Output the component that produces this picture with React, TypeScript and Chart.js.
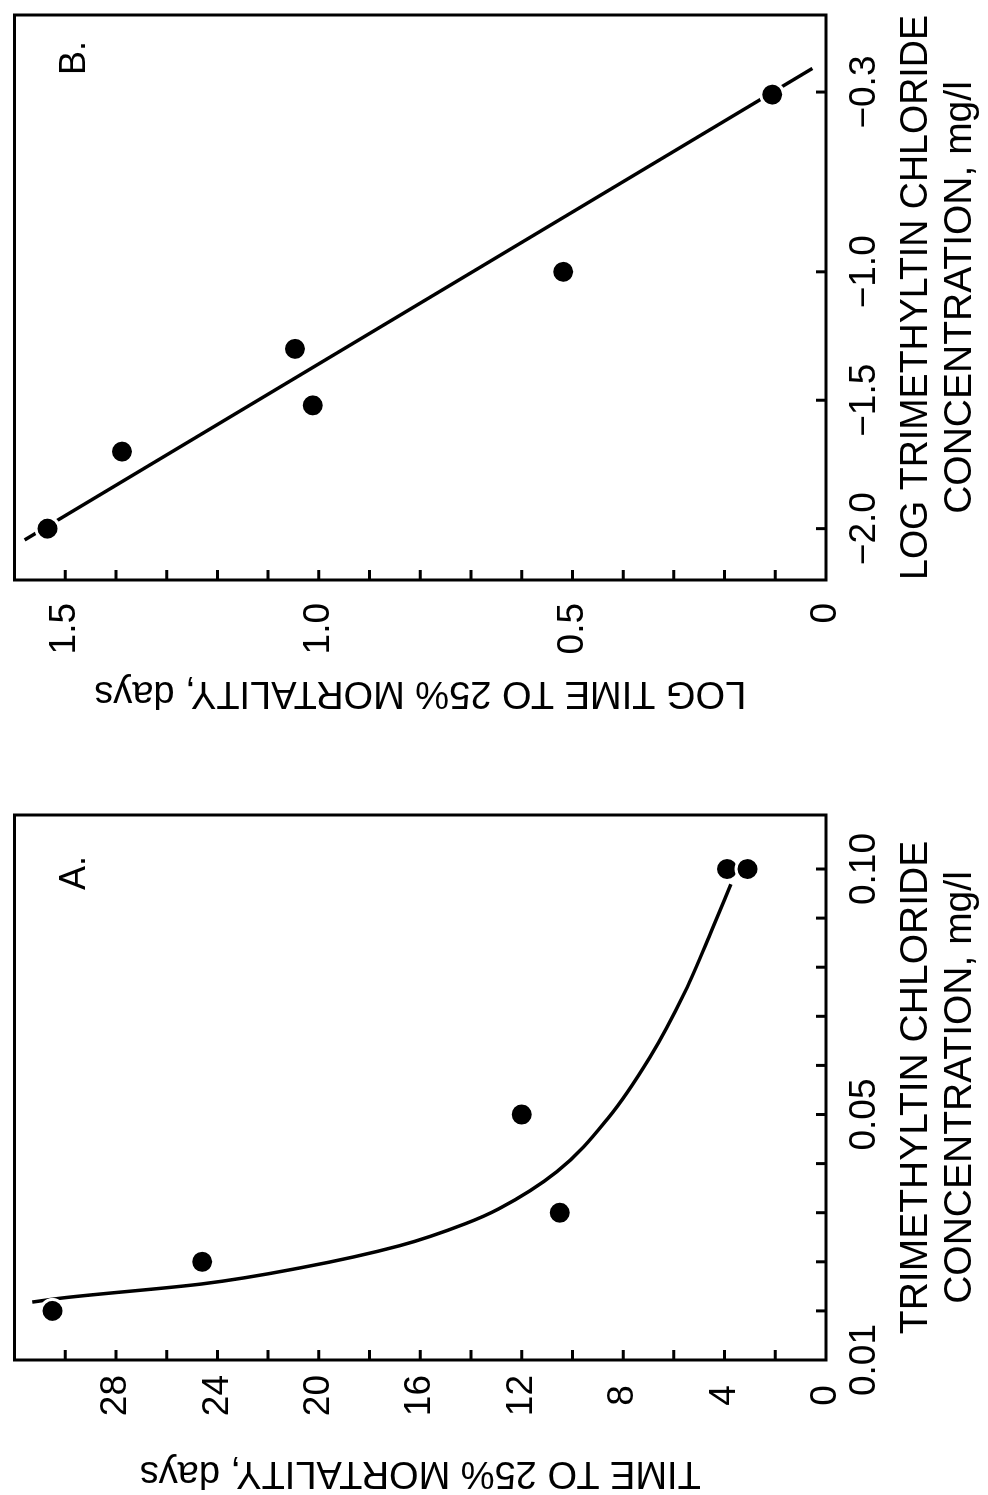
import React, { useEffect, useRef } from 'react';
import { Chart, registerables } from 'chart.js';

Chart.register(...registerables);

const FONT = "'Liberation Sans', Arial, Helvetica, sans-serif";

// ---------- Panel A : time to 25% mortality vs concentration ----------
const A_CONC = [0.01, 0.02, 0.03, 0.05, 0.1, 0.1];
const A_DAYS = [30.5, 24.6, 10.5, 12.0, 3.9, 3.1];
const A_CURVE_CONC = [0.0118, 0.0127, 0.0155, 0.0188, 0.0233, 0.0278, 0.0308, 0.0384, 0.0492, 0.0616, 0.0751, 0.0876, 0.0969];
const A_CURVE_DAYS = [31.3, 30.0, 24.6, 20.7, 16.8, 14.2, 12.9, 10.6, 8.6, 6.95, 5.55, 4.5, 3.75];
const A_CONC_TICKS = [0, 0.01, 0.02, 0.03, 0.04, 0.05, 0.06, 0.07, 0.08, 0.09, 0.1];
const A_CONC_LABELS = ['0.01', '', '', '', '', '0.05', '', '', '', '', '0.10'];
const A_DAY_TICKS = [0, 2, 4, 6, 8, 10, 12, 14, 16, 18, 20, 22, 24, 26, 28, 30];
const A_DAY_LABELS = ['0', '', '4', '', '8', '', '12', '', '16', '', '20', '', '24', '', '28', ''];
const A_X_TITLE = ['TRIMETHYLTIN CHLORIDE', 'CONCENTRATION, mg/l'];
const A_Y_TITLE = 'TIME TO 25% MORTALITY, days';

// ---------- Panel B : log time vs log concentration ----------
const B_LOGCONC = [-2.0, -1.7, -1.52, -1.3, -1.0, -0.31];
const B_LOGTIME = [1.535, 1.388, 1.012, 1.047, 0.518, 0.106];
const B_LINE_LOGCONC = [-2.044, -0.208];
const B_LINE_LOGTIME = [1.58, 0.027];
const B_CONC_TICKS = [-2.0, -1.5, -1.0, -0.3];
const B_CONC_LABELS = ['\u22122.0', '\u22121.5', '\u22121.0', '\u22120.3'];
const B_TIME_TICKS = [0, 0.1, 0.2, 0.3, 0.4, 0.5, 0.6, 0.7, 0.8, 0.9, 1.0, 1.1, 1.2, 1.3, 1.4, 1.5];
const B_TIME_LABELS = ['0', '', '', '', '', '0.5', '', '', '', '', '1.0', '', '', '', '', '1.5'];
const B_X_TITLE = ['LOG TRIMETHYLTIN CHLORIDE', 'CONCENTRATION, mg/l'];
const B_Y_TITLE = 'LOG TIME TO 25% MORTALITY, days';

type PanelCfg = {
  width: number;
  yAxisWidth: number;
  padRight: number;
  label: string;
  labelOffset: number;
  pts: { x: number; y: number }[];
  curve: { x: number; y: number }[];
  curveTension: number;
  xMin: number;
  xMax: number;
  xTicks: number[];
  xLabels: string[];
  yMin: number;
  yMax: number;
  yTicks: number[];
  yLabels: string[];
  xTitle: string[];
  yTitle: string;
  yTitlePad: number;
  yTickPad: number;
  yCross: 'near' | 'center' | 'far';
};

const framePlugin = {
  id: 'frame',
  afterDraw(chart: any, _args: any, opts: any) {
    const { ctx, chartArea } = chart;
    const { left, right, top, bottom } = chartArea;
    ctx.save();
    ctx.strokeStyle = '#000';
    ctx.lineWidth = 3;
    const xs = chart.scales.x;
    const ys = chart.scales.y;
    const len = 10;
    ctx.beginPath();
    xs.ticks.forEach((t: any) => {
      const p = xs.getPixelForValue(t.value);
      if (p <= left + 1 || p >= right - 1) return;
      ctx.moveTo(p, bottom);
      ctx.lineTo(p, bottom - len);
    });
    ys.ticks.forEach((t: any) => {
      const p = ys.getPixelForValue(t.value);
      if (p <= top + 1 || p >= bottom - 1) return;
      ctx.moveTo(left, p);
      ctx.lineTo(left + len, p);
    });
    ctx.stroke();
    ctx.strokeRect(left, top, right - left, bottom - top);
    ctx.fillStyle = '#000';
    ctx.font = `36px ${FONT}`;
    ctx.textBaseline = 'alphabetic';
    ctx.textAlign = 'left';
    ctx.fillText(opts.label, right - opts.labelOffset, top + 70);
    ctx.restore();
  },
};

const zeroPad = (s: any) => {
  s.paddingTop = 0;
  s.paddingBottom = 0;
  s.paddingLeft = 0;
  s.paddingRight = 0;
};

function makeChart(canvas: HTMLCanvasElement, c: PanelCfg) {
  return new Chart(canvas, {
    type: 'scatter',
    data: {
      datasets: [
        {
          type: 'line',
          data: c.curve,
          borderColor: '#000',
          borderWidth: 3.5,
          pointRadius: 0,
          tension: c.curveTension,
          cubicInterpolationMode: c.curveTension > 0 ? 'monotone' : 'default',
          fill: false,
          order: 2,
        } as any,
        {
          type: 'scatter',
          data: c.pts,
          backgroundColor: '#000',
          borderColor: '#fff',
          borderWidth: 3,
          pointRadius: 11.5,
          order: 1,
        } as any,
      ],
    },
    plugins: [framePlugin],
    options: {
      animation: false,
      responsive: false,
      devicePixelRatio: 1,
      layout: { padding: { left: 0, top: 10, right: c.padRight, bottom: 0 } },
      plugins: {
        legend: { display: false },
        tooltip: { enabled: false },
        frame: { label: c.label, labelOffset: c.labelOffset },
      } as any,
      scales: {
        x: {
          type: 'linear',
          position: 'bottom',
          min: c.xMin,
          max: c.xMax,
          grid: { display: false, drawTicks: false },
          border: { display: false },
          afterBuildTicks: (s: any) => {
            s.ticks = c.xTicks.map((v) => ({ value: v }));
          },
          afterFit: (s: any) => {
            s.height = 988 - 826;
            zeroPad(s);
          },
          ticks: {
            autoSkip: false,
            maxRotation: 0,
            minRotation: 0,
            padding: 17,
            color: '#000',
            font: { family: FONT, size: 37 },
            callback: (_v: any, i: number) => c.xLabels[i],
          },
          title: {
            display: true,
            text: c.xTitle,
            color: '#000',
            font: { family: FONT, size: 39, lineHeight: 44 / 39 },
            padding: { top: 0, bottom: 6 },
          },
        },
        y: {
          type: 'linear',
          position: 'left',
          min: c.yMin,
          max: c.yMax,
          grid: { display: false, drawTicks: false },
          border: { display: false },
          afterBuildTicks: (s: any) => {
            s.ticks = c.yTicks.map((v) => ({ value: v }));
          },
          afterFit: (s: any) => {
            s.width = c.yAxisWidth;
            zeroPad(s);
          },
          ticks: {
            autoSkip: false,
            padding: c.yTickPad,
            crossAlign: c.yCross,
            color: '#000',
            font: { family: FONT, size: 37 },
            callback: (_v: any, i: number) => c.yLabels[i],
          },
          title: {
            display: true,
            text: c.yTitle,
            color: '#000',
            font: { family: FONT, size: 38 },
            padding: { top: c.yTitlePad, bottom: 0 },
          },
        },
      },
    } as any,
  });
}

const zip = (xs: number[], ys: number[]) => xs.map((x, i) => ({ x, y: ys[i] }));

const PANEL_A: PanelCfg = {
  width: 740,
  yAxisWidth: 135,
  padRight: 60,
  label: 'A.',
  labelOffset: 75,
  pts: zip(A_CONC, A_DAYS),
  curve: zip(A_CURVE_CONC, A_CURVE_DAYS),
  curveTension: 0.4,
  xMin: 0,
  xMax: 0.111,
  xTicks: A_CONC_TICKS,
  xLabels: A_CONC_LABELS,
  yMin: 0,
  yMax: 32,
  yTicks: A_DAY_TICKS,
  yLabels: A_DAY_LABELS,
  xTitle: A_X_TITLE,
  yTitle: A_Y_TITLE,
  yTitlePad: 0,
  yTickPad: 15,
  yCross: 'center',
};

const PANEL_B: PanelCfg = {
  width: 755,
  yAxisWidth: 175,
  padRight: 15,
  label: 'B.',
  labelOffset: 60,
  pts: zip(B_LOGCONC, B_LOGTIME),
  curve: zip(B_LINE_LOGCONC, B_LINE_LOGTIME),
  curveTension: 0,
  xMin: -2.2,
  xMax: 0,
  xTicks: B_CONC_TICKS,
  xLabels: B_CONC_LABELS,
  yMin: 0,
  yMax: 1.6,
  yTicks: B_TIME_TICKS,
  yLabels: B_TIME_LABELS,
  xTitle: B_X_TITLE,
  yTitle: B_Y_TITLE,
  yTitlePad: 40,
  yTickPad: 23,
  yCross: 'near',
};

function Panel({ cfg, left }: { cfg: PanelCfg; left: number }) {
  const ref = useRef<HTMLCanvasElement | null>(null);
  useEffect(() => {
    if (!ref.current) return;
    const ch = makeChart(ref.current, cfg);
    return () => ch.destroy();
  }, [cfg]);
  return (
    <canvas
      ref={ref}
      width={cfg.width}
      height={988}
      style={{ position: 'absolute', left, top: 0, width: cfg.width, height: 988, display: 'block' }}
    />
  );
}

export default function App() {
  return (
    <div style={{ position: 'absolute', left: 0, top: 0, width: 988, height: 1495, overflow: 'hidden', background: '#fff' }}>
      <div
        style={{
          position: 'absolute',
          left: 0,
          top: 0,
          width: 1495,
          height: 988,
          transformOrigin: '0 0',
          transform: 'translate(0px, 1495px) rotate(-90deg)',
          background: '#fff',
        }}
      >
        <Panel cfg={PANEL_A} left={0} />
        <Panel cfg={PANEL_B} left={740} />
      </div>
    </div>
  );
}
